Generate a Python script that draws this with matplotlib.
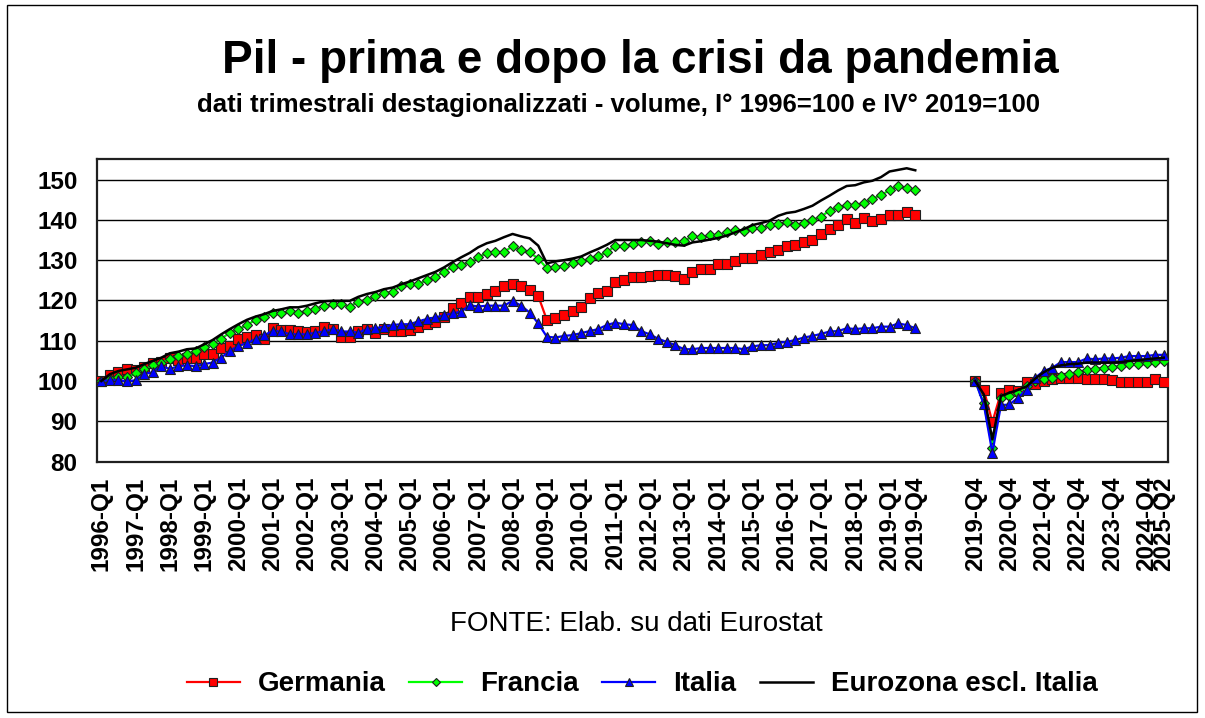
import numpy as np
import matplotlib
matplotlib.use("Agg")
import matplotlib.pyplot as plt
from matplotlib.patches import Rectangle

# quarters 1996-Q1 .. 2019-Q4, then a gap, then 2019-Q4 .. 2025-Q2
pre_quarters = [f"{y}-Q{q}" for y in range(1996, 2020) for q in range(1, 5)]
post_quarters = ["2019-Q4"] + [f"{y}-Q{q}" for y in range(2020, 2025) for q in range(1, 5)] + ["2025-Q1", "2025-Q2"]
gap_len = 6

germania_pre = [100.0, 101.4, 102.2, 102.9, 102.7, 103.6, 104.4, 104.7, 105.6, 105.2,
                105.6, 105.6, 106.6, 106.6, 108.1, 108.6, 110.4, 111.0, 111.5, 110.4,
                113.1, 112.7, 112.7, 112.4, 112.2, 112.4, 113.3, 112.8, 111.0, 111.0,
                112.4, 112.8, 111.9, 112.8, 112.4, 112.4, 112.6, 113.3, 114.2, 114.7,
                115.9, 118.2, 119.3, 120.8, 120.8, 121.6, 122.4, 123.6, 124.0, 123.5,
                122.6, 121.1, 115.2, 115.6, 116.4, 117.3, 118.3, 120.6, 121.8, 122.4,
                124.7, 125.0, 125.7, 125.7, 126.1, 126.4, 126.3, 126.0, 125.3, 127.0,
                127.8, 127.8, 129.0, 129.0, 129.7, 130.5, 130.5, 131.3, 131.9, 132.6,
                133.4, 133.8, 134.4, 135.1, 136.5, 137.8, 138.7, 140.2, 139.3, 140.5,
                139.7, 140.3, 141.2, 141.2, 141.9, 141.2]
francia_pre = [100.0, 100.6, 101.0, 101.0, 101.9, 102.9, 103.9, 104.6, 105.4, 106.2,
               106.8, 107.5, 108.5, 109.1, 110.5, 112.0, 112.9, 113.9, 115.2, 115.8,
               117.0, 116.8, 117.4, 117.0, 117.4, 118.0, 118.7, 119.1, 119.1, 118.5,
               119.7, 120.1, 121.1, 121.8, 122.2, 123.6, 124.0, 124.0, 125.1, 125.9,
               127.1, 128.4, 128.9, 129.5, 130.7, 131.8, 131.9, 132.1, 133.4, 132.5,
               131.9, 130.4, 128.0, 128.4, 128.6, 129.2, 129.7, 130.4, 131.1, 131.9,
               133.6, 133.6, 134.0, 134.6, 134.8, 134.0, 134.4, 134.4, 134.7, 135.9,
               135.7, 136.2, 136.3, 136.9, 137.6, 137.3, 137.9, 138.0, 138.6, 139.0,
               139.4, 138.8, 139.2, 140.0, 140.8, 142.3, 143.1, 143.7, 143.7, 144.1,
               145.2, 146.2, 147.3, 148.4, 147.9, 147.3]
italia_pre = [100.0, 100.2, 100.2, 99.9, 100.2, 101.7, 102.2, 103.7, 103.0, 103.7,
              103.9, 103.7, 104.2, 104.6, 105.8, 107.5, 108.7, 109.4, 110.4, 111.4,
              112.4, 112.3, 111.6, 111.6, 111.6, 112.0, 112.3, 112.9, 112.3, 112.3,
              112.0, 112.9, 113.1, 113.5, 113.9, 114.1, 114.1, 114.8, 115.4, 115.8,
              116.3, 116.8, 117.2, 118.8, 118.5, 118.7, 118.7, 118.7, 119.9, 118.7,
              117.0, 114.3, 111.0, 110.8, 111.2, 111.4, 111.9, 112.4, 112.9, 113.9,
              114.5, 114.1, 113.9, 112.4, 111.6, 110.5, 109.7, 108.9, 107.9, 107.9,
              108.2, 108.2, 108.2, 108.2, 108.2, 107.9, 108.6, 108.9, 108.9, 109.5,
              109.7, 110.2, 110.8, 111.2, 111.7, 112.3, 112.4, 113.1, 112.9, 113.1,
              113.1, 113.5, 113.5, 114.3, 113.9, 113.1]
eurozona_pre = [100.0, 101.7, 102.5, 102.9, 103.3, 104.2, 105.0, 105.8, 106.9, 107.3,
                107.9, 108.1, 109.1, 110.2, 111.6, 112.9, 114.1, 115.2, 116.0, 116.6,
                117.4, 117.8, 118.3, 118.3, 118.7, 119.3, 119.8, 119.9, 119.9, 119.9,
                120.9, 121.6, 122.1, 122.8, 123.2, 124.0, 124.7, 125.5, 126.3, 127.1,
                128.2, 129.5, 130.7, 131.8, 133.2, 134.2, 134.8, 135.7, 136.5, 135.9,
                135.4, 133.6, 129.2, 129.7, 130.0, 130.4, 130.9, 131.9, 132.8, 133.8,
                135.0, 135.0, 135.0, 135.0, 134.8, 134.6, 134.2, 133.8, 133.6, 134.4,
                134.7, 135.1, 135.5, 136.1, 136.9, 137.7, 138.7, 139.2, 139.8, 141.0,
                141.7, 142.0, 142.7, 143.5, 144.8, 146.0, 147.3, 148.4, 148.6, 149.3,
                149.7, 150.6, 152.0, 152.4, 152.8, 152.3]

germania_post = [100.0, 97.9, 89.8, 97.1, 97.9, 97.5, 99.7, 99.3, 100.0, 100.6, 100.8, 100.8,
                 100.8, 100.6, 100.6, 100.6, 100.2, 99.8, 99.8, 99.8, 99.8, 100.4, 99.8]
francia_post = [100.0, 94.5, 83.5, 95.9, 96.3, 97.1, 98.7, 100.0, 100.6, 100.8, 101.2, 101.8,
                102.2, 102.7, 103.1, 103.3, 103.5, 103.7, 104.2, 104.3, 104.6, 104.8, 105.1]
italia_post = [100.0, 94.2, 82.2, 94.0, 94.2, 95.9, 97.9, 100.8, 102.5, 103.3, 104.7, 104.7,
               104.7, 105.6, 105.4, 105.6, 105.6, 105.8, 106.2, 106.2, 106.2, 106.5, 106.5]
eurozona_post = [100.0, 96.7, 85.5, 96.3, 97.1, 97.8, 98.7, 100.6, 102.2, 103.3, 103.9, 104.2,
                 104.3, 104.6, 104.6, 104.6, 104.6, 104.7, 105.0, 105.2, 105.4, 105.6, 105.8]

pre_ticks = [f"{y}-Q1" for y in range(1996, 2020)] + ["2019-Q4"]
post_ticks = ["2019-Q4", "2020-Q4", "2021-Q4", "2022-Q4", "2023-Q4", "2024-Q4", "2025-Q2"]


def join(pre, post):
    return np.array(list(pre) + [np.nan] * gap_len + list(post), dtype=float)


def tick_positions():
    pos, labels = [], []
    for t in pre_ticks:
        pos.append(pre_quarters.index(t))
        labels.append(t)
    offset = len(pre_quarters) + gap_len
    for t in post_ticks:
        pos.append(offset + post_quarters.index(t))
        labels.append(t)
    return pos, labels


plt.rcParams['font.family'] = ['Liberation Sans', 'DejaVu Sans']

fig = plt.figure(figsize=(12.05, 7.18), dpi=100)
ax = fig.add_axes([0.0805, 0.357, 0.8888, 0.421])

n = len(pre_quarters) + gap_len + len(post_quarters)
x = np.arange(n)

ax.plot(x, join(germania_pre, germania_post), color='#ff0000', lw=1.6, marker='s', ms=7.5,
        mfc='#ff0000', mec='#202020', mew=0.8, label='Germania', zorder=3)
ax.plot(x, join(francia_pre, francia_post), color='#00ff00', lw=1.6, marker='D', ms=5.5,
        mfc='#00ff00', mec='#202020', mew=0.8, label='Francia', zorder=4)
ax.plot(x, join(italia_pre, italia_post), color='#0000ff', lw=1.6, marker='^', ms=7.5,
        mfc='#0000ff', mec='#202020', mew=0.8, label='Italia', zorder=5)
ax.plot(x, join(eurozona_pre, eurozona_post), color='black', lw=1.8,
        label='Eurozona escl. Italia', zorder=6)

ax.set_xlim(-0.5, n - 0.5)
ax.set_ylim(80, 155)
ax.set_yticks(range(80, 151, 10))
ax.grid(axis='y', color='black', lw=1.0)
ax.set_axisbelow(True)
pos, labels = tick_positions()
ax.set_xticks(pos)
ax.set_xticklabels(labels, rotation=90, fontsize=17.5, fontweight='bold', va='top', ha='center')
ax.tick_params(axis='x', length=0, pad=11)
ax.tick_params(axis='y', length=0, pad=14, labelsize=17.5)
for lab in ax.get_yticklabels():
    lab.set_fontweight('bold')
for sp in ax.spines.values():
    sp.set_linewidth(1.6)
    sp.set_color('#202020')

fig.text(0.531, 0.898, "Pil - prima e dopo la crisi da pandemia", ha='center', va='baseline',
         fontsize=33, fontweight='bold')
fig.text(0.513, 0.844, "dati trimestrali destagionalizzati - volume, I° 1996=100 e IV° 2019=100",
         ha='center', va='baseline', fontsize=18.5, fontweight='bold')
fig.text(0.528, 0.121, "FONTE: Elab. su dati Eurostat", ha='center', va='baseline', fontsize=20)

leg = fig.legend(loc='center', bbox_to_anchor=(0.533, 0.047), ncol=4, frameon=False,
                 handlelength=1.9, columnspacing=0.85, handletextpad=0.65, markerscale=0.7,
                 prop={'weight': 'bold', 'size': 20})

fig.patches.append(Rectangle((7 / 1205, 1 - 712 / 718), 1190 / 1205, 707 / 718,
                             transform=fig.transFigure, fill=False, ec='black', lw=1.0))

fig.savefig("out.png", dpi=100)
